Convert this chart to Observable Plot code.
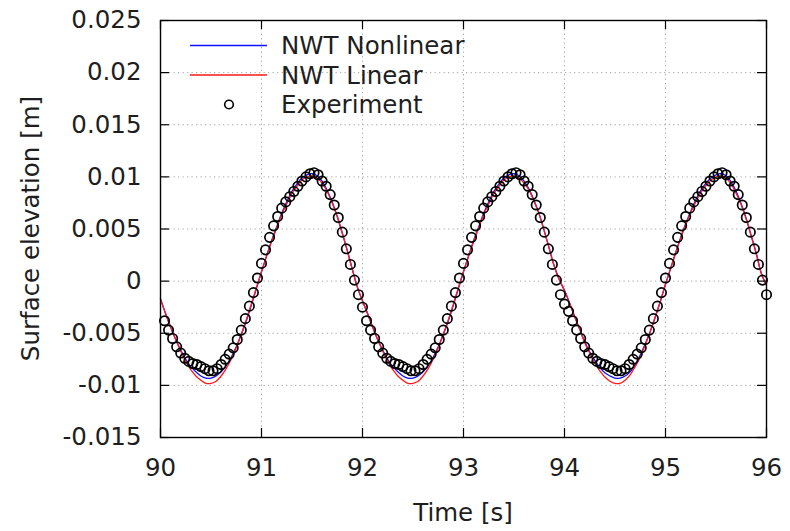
<!DOCTYPE html>
<html><head><meta charset="utf-8">
<script src="https://cdn.jsdelivr.net/npm/d3@7"></script>
<script src="https://cdn.jsdelivr.net/npm/@observablehq/plot@0.6"></script>
<style>
body{margin:0;background:#fff;}
#chart{width:790px;height:531px;}
</style></head><body><div id="chart"></div>
<script>
// ---- data ----
const modelTime = [
90,90.05,90.1,90.15,90.2,90.25,90.3,90.35,90.4,90.45,90.5,90.55,90.6,90.65,90.7,90.75,90.8,90.85,90.9,90.95,
91,91.05,91.1,91.15,91.2,91.25,91.3,91.35,91.4,91.45,91.5,91.55,91.6,91.65,91.7,91.75,91.8,91.85,91.9,91.95,
92,92.05,92.1,92.15,92.2,92.25,92.3,92.35,92.4,92.45,92.5,92.55,92.6,92.65,92.7,92.75,92.8,92.85,92.9,92.95,
93,93.05,93.1,93.15,93.2,93.25,93.3,93.35,93.4,93.45,93.5,93.55,93.6,93.65,93.7,93.75,93.8,93.85,93.9,93.95,
94,94.05,94.1,94.15,94.2,94.25,94.3,94.35,94.4,94.45,94.5,94.55,94.6,94.65,94.7,94.75,94.8,94.85,94.9,94.95,
95,95.05,95.1,95.15,95.2,95.25,95.3,95.35,95.4,95.45,95.5,95.55,95.6,95.65,95.7,95.75,95.8,95.85,95.9,95.95,96];

const nonlinear = [
-0.0017,-0.0031,-0.0044,-0.0056,-0.0066,-0.0075,-0.0082,-0.0087,-0.0091,-0.0093,
-0.0093,-0.0091,-0.0087,-0.0081,-0.0073,-0.0063,-0.0051,-0.0038,-0.0023,-0.0007,
0.0009,0.0024,0.0039,0.0052,0.0065,0.0076,0.0086,0.0093,0.0099,0.0102,
0.0103,0.0101,0.0096,0.0087,0.0076,0.0062,0.0046,0.0029,0.0011,-0.0006,
-0.0019,-0.0031,-0.0044,-0.0056,-0.0066,-0.0075,-0.0082,-0.0087,-0.0091,-0.0093,
-0.0093,-0.0091,-0.0087,-0.0081,-0.0073,-0.0063,-0.0051,-0.0038,-0.0023,-0.0007,
0.0009,0.0024,0.0039,0.0052,0.0065,0.0076,0.0086,0.0093,0.0099,0.0102,
0.0103,0.0101,0.0096,0.0088,0.0077,0.0064,0.0048,0.0031,0.0014,0.0001,
-0.0009,-0.0021,-0.0034,-0.0046,-0.0058,-0.0068,-0.0076,-0.0083,-0.0088,-0.0091,-0.0093,
-0.0093,-0.0091,-0.0087,-0.0080,-0.0071,-0.0060,-0.0048,-0.0034,-0.0019,-0.0003,
0.0012,0.0027,0.0042,0.0055,0.0067,0.0078,0.0087,0.0094,0.0099,0.0102,
0.0103,0.0101,0.0095,0.0086,0.0074,0.0060,0.0043,0.0026,0.0007,-0.0004];

const linear = [
-0.0017,-0.0031,-0.0044,-0.0056,-0.0067,-0.0077,-0.0085,-0.0091,-0.0095,-0.0098,
-0.0098,-0.0096,-0.0091,-0.0084,-0.0075,-0.0064,-0.0051,-0.0037,-0.0022,-0.0006,
0.0009,0.0024,0.0038,0.0051,0.0064,0.0074,0.0084,0.0091,0.0097,0.0100,
0.0101,0.0099,0.0094,0.0086,0.0075,0.0062,0.0046,0.0029,0.0011,-0.0006,
-0.0019,-0.0031,-0.0044,-0.0056,-0.0067,-0.0077,-0.0085,-0.0091,-0.0095,-0.0098,
-0.0098,-0.0096,-0.0091,-0.0084,-0.0075,-0.0064,-0.0051,-0.0037,-0.0022,-0.0006,
0.0009,0.0024,0.0038,0.0051,0.0064,0.0074,0.0084,0.0091,0.0097,0.0100,
0.0101,0.0099,0.0094,0.0087,0.0076,0.0064,0.0048,0.0031,0.0014,0.0001,
-0.0009,-0.0021,-0.0034,-0.0046,-0.0059,-0.0069,-0.0079,-0.0086,-0.0092,-0.0096,-0.0098,
-0.0098,-0.0095,-0.0090,-0.0082,-0.0073,-0.0061,-0.0048,-0.0034,-0.0019,-0.0003,
0.0012,0.0027,0.0041,0.0054,0.0066,0.0076,0.0085,0.0092,0.0097,0.0100,
0.0101,0.0099,0.0093,0.0084,0.0073,0.0059,0.0043,0.0026,0.0007,-0.0004];

const expTime = [
90.04,90.08,90.12,90.16,90.2,90.24,90.28,90.32,90.36,90.4,90.44,90.48,90.52,90.56,90.6,90.64,90.68,90.72,90.76,90.8,90.84,90.88,90.92,90.96,91,
91.04,91.08,91.12,91.16,91.2,91.24,91.28,91.32,91.36,91.4,91.44,91.48,91.52,91.56,91.6,91.64,91.68,91.72,91.76,91.8,91.84,91.88,91.92,91.96,92,
92.04,92.08,92.12,92.16,92.2,92.24,92.28,92.32,92.36,92.4,92.44,92.48,92.52,92.56,92.6,92.64,92.68,92.72,92.76,92.8,92.84,92.88,92.92,92.96,93,
93.04,93.08,93.12,93.16,93.2,93.24,93.28,93.32,93.36,93.4,93.44,93.48,93.52,93.56,93.6,93.64,93.68,93.72,93.76,93.8,93.84,93.88,93.92,93.96,94,
94.04,94.08,94.12,94.16,94.2,94.24,94.28,94.32,94.36,94.4,94.44,94.48,94.52,94.56,94.6,94.64,94.68,94.72,94.76,94.8,94.84,94.88,94.92,94.96,95,
95.04,95.08,95.12,95.16,95.2,95.24,95.28,95.32,95.36,95.4,95.44,95.48,95.52,95.56,95.6,95.64,95.68,95.72,95.76,95.8,95.84,95.88,95.92,95.96,96];

const experiment = [
-0.0038,-0.0047,-0.0055,-0.0063,-0.0069,-0.0074,-0.0077,-0.0079,-0.0080,-0.0082,-0.0084,-0.0086,-0.0086,-0.0084,-0.0080,-0.0075,-0.0070,-0.0064,-0.0056,-0.0047,-0.0036,-0.0024,-0.0011,0.0003,0.0017,
0.0030,0.0042,0.0053,0.0062,0.0070,0.0076,0.0081,0.0086,0.0091,0.0096,0.0100,0.0103,0.0104,0.0102,0.0096,0.0091,0.0083,0.0073,0.0061,0.0047,0.0031,0.0016,0.0001,-0.0013,-0.0025,
-0.0038,-0.0047,-0.0055,-0.0063,-0.0069,-0.0074,-0.0077,-0.0079,-0.0080,-0.0082,-0.0084,-0.0086,-0.0086,-0.0084,-0.0080,-0.0075,-0.0070,-0.0064,-0.0056,-0.0047,-0.0036,-0.0024,-0.0011,0.0003,0.0017,
0.0030,0.0042,0.0053,0.0062,0.0070,0.0076,0.0081,0.0086,0.0091,0.0096,0.0100,0.0103,0.0104,0.0102,0.0096,0.0091,0.0083,0.0073,0.0061,0.0047,0.0031,0.0016,0.0001,-0.0013,-0.0022,
-0.0029,-0.0038,-0.0047,-0.0055,-0.0063,-0.0069,-0.0074,-0.0077,-0.0079,-0.0080,-0.0082,-0.0084,-0.0086,-0.0086,-0.0084,-0.0080,-0.0075,-0.0070,-0.0064,-0.0056,-0.0047,-0.0036,-0.0024,-0.0011,0.0003,
0.0017,0.0030,0.0042,0.0053,0.0062,0.0070,0.0076,0.0081,0.0086,0.0091,0.0096,0.0100,0.0103,0.0104,0.0102,0.0096,0.0091,0.0083,0.0073,0.0061,0.0047,0.0031,0.0016,0.0001,-0.0013];

const xTicks = [90, 91, 92, 93, 94, 95, 96];
const yTicks = [-0.015, -0.01, -0.005, 0, 0.005, 0.01, 0.015, 0.02, 0.025];
const seriesNames = ["NWT Nonlinear", "NWT Linear", "Experiment"];
const seriesColors = ["#1010ff", "#ff1a1a", "#000000"];
const xTitle = "Time [s]";
const yTitle = "Surface elevation [m]";

// ---- tables built from the arrays ----
const modelRows = modelTime.map((t, i) => ({t, nl: nonlinear[i], lin: linear[i]}));
const expRows = expTime.map((t, i) => ({t, y: experiment[i]}));

const W = 790, H = 531, mL = 160, mR = 24, mT = 20, mB = 94;
const fw = W - mL - mR, fh = H - mT - mB;
const tk = 9;
const FONT = "DejaVu Sans";
const FS = 24.5;
const fmt = d => String(+d.toFixed(3));

const gridStyle = {stroke: "#a8a8a8", strokeOpacity: 1, strokeWidth: 1, strokeDasharray: "1.3,3.2"};

const plot = Plot.plot({
  width: W, height: H,
  marginLeft: mL, marginRight: mR, marginTop: mT, marginBottom: mB,
  style: {fontFamily: FONT, fontSize: FS + "px", color: "#1e1e1e", background: "#fff"},
  x: {domain: [90, 96]},
  y: {domain: [-0.015, 0.025]},
  marks: [
    Plot.gridX(xTicks, gridStyle),
    Plot.gridY(yTicks, gridStyle),
    Plot.line(modelRows, {x: "t", y: "nl", stroke: seriesColors[0], strokeWidth: 1.3, curve: "catmull-rom"}),
    Plot.line(modelRows, {x: "t", y: "lin", stroke: seriesColors[1], strokeWidth: 1.3, curve: "catmull-rom"}),
    Plot.dot(expRows, {x: "t", y: "y", r: 4.7, stroke: seriesColors[2], strokeWidth: 1.7, fill: "none"}),
    Plot.ruleX(xTicks, {insetTop: fh - tk, stroke: "#000", strokeWidth: 1.2}),
    Plot.ruleX(xTicks, {insetBottom: fh - tk, stroke: "#000", strokeWidth: 1.2}),
    Plot.ruleY(yTicks, {insetRight: fw - tk, stroke: "#000", strokeWidth: 1.2}),
    Plot.ruleY(yTicks, {insetLeft: fw - tk, stroke: "#000", strokeWidth: 1.2}),
    Plot.frame({stroke: "#000", strokeWidth: 1.4}),
    Plot.axisX(xTicks, {tickSize: 0, tickPadding: 21, label: null, fontSize: FS}),
    Plot.axisY(yTicks, {tickSize: 0, tickPadding: 19, tickFormat: fmt, label: null, fontSize: FS})
  ]
});
document.getElementById("chart").appendChild(plot);

// ---- titles and legend as text ----
const svg = d3.select(plot);
svg.append("text").attr("x", mL + fw / 2).attr("y", 521)
  .attr("text-anchor", "middle").attr("font-family", FONT).attr("font-size", FS).attr("fill", "#1e1e1e")
  .text(xTitle);
svg.append("text").attr("transform", `translate(30,${mT + fh / 2}) rotate(-90)`)
  .attr("text-anchor", "middle").attr("dy", "0.35em").attr("font-family", FONT).attr("font-size", FS).attr("fill", "#1e1e1e")
  .text(yTitle);

const lg = svg.append("g").attr("font-family", FONT).attr("font-size", FS).attr("fill", "#1e1e1e")
  .attr("text-anchor", "start");
const rowsY = [45.5, 75, 104.5];
seriesNames.forEach((name, i) => {
  const y = rowsY[i];
  if (i < 2) {
    lg.append("line").attr("x1", 190).attr("x2", 267).attr("y1", y).attr("y2", y)
      .attr("stroke", seriesColors[i]).attr("stroke-width", 1.3);
  } else {
    lg.append("circle").attr("cx", 229).attr("cy", y).attr("r", 4.3)
      .attr("fill", "none").attr("stroke", seriesColors[i]).attr("stroke-width", 1.6);
  }
  lg.append("text").attr("x", 281).attr("y", y).attr("dy", "0.36em")
    .attr("text-anchor", "start").text(name);
});
</script>
</body></html>
